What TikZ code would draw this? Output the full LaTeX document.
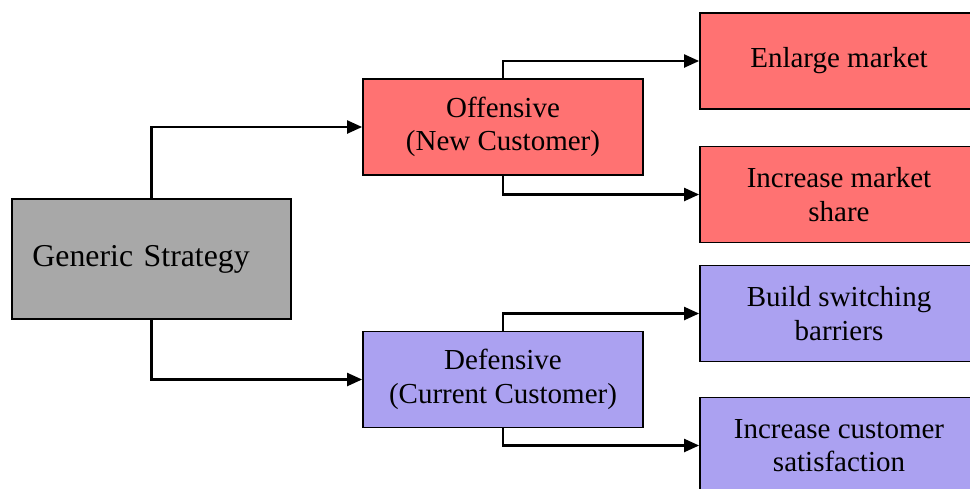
\documentclass[tikz,border=0pt]{standalone}
\usepackage{fontspec}
\setmainfont{Liberation Serif}
\usepackage{xcolor}
\usetikzlibrary{positioning, calc, arrows.meta}
\definecolor{offred}{RGB}{255,114,114}
\definecolor{defblue}{RGB}{171,161,241}
\definecolor{gengray}{RGB}{168,168,168}

\begin{document}
\begin{tikzpicture}[x=0.5pt,y=-0.5pt,
    box/.style={draw=black, line width=0.9pt, inner sep=0pt, align=center,
      font=\fontsize{14.5}{16.8}\selectfont},
    genbox/.style={box, fill=gengray, minimum height=60pt, text width=119pt,
      inner xsep=10.25pt, align=left, font=\fontsize{15.9}{18}\selectfont},
    midbox/.style={box, minimum width=140pt, minimum height=48pt},
    endbox/.style={box, minimum width=139pt, minimum height=48pt},
    link/.style={line width=1.1pt, -{Triangle[length=7.5pt,width=6.5pt]}}]
      \useasboundingbox (0,0) rectangle (970,488);
      \clip (0,0) rectangle (970,488);
      \node[genbox] (gen) at (151.5,259) {Generic Strategy};
      \node[midbox, fill=offred] (off) at (503,127) {Offensive\\(New Customer)};
      \node[midbox, fill=defblue] (def) at (503,379.5) {Defensive\\(Current Customer)};
      \node[endbox, fill=offred] (enl) at (839,61) {Enlarge market};
      \node[endbox, fill=offred] (ims) at (839,194.5) {Increase market\\share};
      \node[endbox, fill=defblue] (bsb) at (839,313.5) {Build switching\\barriers};
      \node[endbox, fill=defblue] (ics) at (839,445.5) {Increase customer\\satisfaction};
      \draw[link] (gen.north) |- (off.west);
      \draw[link] (gen.south) |- (def.west);
      \draw[link] (off.north) |- (enl.west);
      \draw[link] (off.south) |- (ims.west);
      \draw[link] (def.north) |- (bsb.west);
      \draw[link] (def.south) |- (ics.west);
    \end{tikzpicture}
\end{document}
